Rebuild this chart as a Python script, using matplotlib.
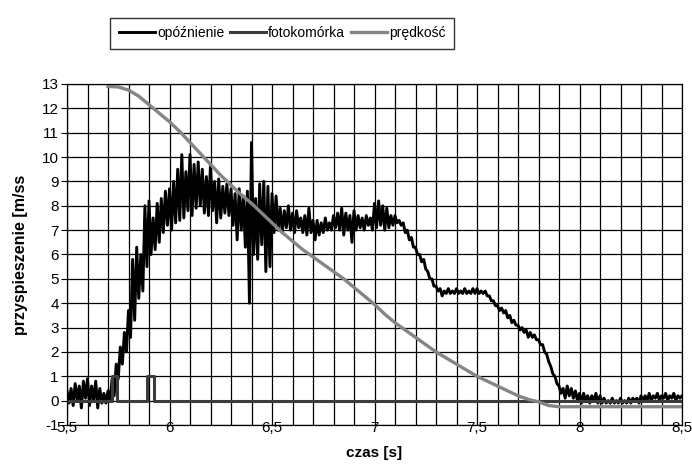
import numpy as np
import matplotlib
matplotlib.use("Agg")
import matplotlib.pyplot as plt
from matplotlib.ticker import MultipleLocator, FuncFormatter

plt.rcParams['font.family'] = ['Liberation Sans', 'DejaVu Sans']
plt.rcParams['axes.unicode_minus'] = False

# opóźnienie: upper / lower envelope of the noisy signal, sampled every 0.02 s
t_opo = np.round(np.arange(5.50, 8.501, 0.02), 2)
opo_hi = [0.4, 0.5, 0.7, 0.6, 0.8, 0.9, 0.6, 0.8, 0.5, 0.3, 0.4, 0.9, 1.5, 2.2, 2.8, 3.7,
          5.8, 6.3, 6.0, 8.0, 8.2, 7.5, 8.1, 8.3, 8.6, 8.7, 9.0, 9.5, 10.1, 9.4, 10.1, 9.7,
          9.8, 9.5, 9.2, 9.7, 9.0, 9.1, 8.8, 8.9, 8.7, 8.5, 8.7, 8.4, 8.6, 10.6, 8.3, 8.9,
          9.0, 8.8, 8.5, 8.4, 7.9, 7.8, 8.0, 7.7, 7.8, 7.5, 7.6, 7.9, 7.4, 7.4, 7.3, 7.5,
          7.3, 7.6, 7.7, 7.9, 7.7, 7.6, 7.8, 7.6, 7.5, 7.6, 7.5, 8.1, 8.2, 8.0, 7.9, 7.6,
          7.6, 7.4, 7.3, 7.0, 6.7, 6.3, 6.0, 5.8, 5.3, 5.0, 4.7, 4.6, 4.5, 4.6, 4.5, 4.6,
          4.5, 4.6, 4.5, 4.6, 4.6, 4.5, 4.5, 4.3, 4.1, 3.9, 3.8, 3.7, 3.5, 3.3, 3.1, 3.0,
          2.9, 2.8, 2.7, 2.5, 2.3, 1.9, 1.4, 1.0, 0.6, 0.5, 0.6, 0.5, 0.4, 0.3, 0.3, 0.2,
          0.2, 0.3, 0.2, 0.1, 0.0, 0.1, 0.0, 0.1, 0.0, 0.1, 0.1, 0.1, 0.2, 0.2, 0.3, 0.2,
          0.3, 0.2, 0.3, 0.2, 0.3, 0.2, 0.2]
opo_lo = [-0.1, -0.2, 0.0, -0.3, 0.1, -0.2, 0.0, -0.3, -0.1, -0.1, 0.0, 0.2, 0.9, 1.5, 2.0, 2.6,
          3.3, 4.2, 4.5, 5.5, 6.0, 6.2, 6.5, 6.9, 7.2, 7.0, 7.3, 7.4, 7.5, 7.8, 7.6, 7.9,
          8.0, 7.7, 7.6, 7.8, 7.3, 7.5, 7.7, 7.6, 7.2, 6.6, 7.0, 6.3, 4.0, 6.0, 5.8, 6.4,
          5.3, 5.5, 6.9, 7.0, 6.9, 7.1, 7.0, 6.9, 7.1, 6.9, 6.8, 6.9, 6.6, 6.8, 6.9, 7.0,
          7.0, 7.1, 7.0, 6.8, 7.0, 6.5, 7.0, 7.1, 7.0, 7.2, 7.0, 7.1, 7.2, 7.0, 7.1, 7.2,
          7.3, 7.2, 6.9, 6.6, 6.3, 6.0, 5.7, 5.4, 5.0, 4.7, 4.5, 4.3, 4.4, 4.4, 4.4, 4.4,
          4.4, 4.4, 4.4, 4.4, 4.4, 4.4, 4.3, 4.1, 3.9, 3.7, 3.6, 3.4, 3.2, 3.1, 2.9, 2.8,
          2.6, 2.6, 2.5, 2.3, 2.0, 1.6, 1.1, 0.7, 0.3, 0.1, 0.2, 0.1, 0.0, -0.1, 0.0, -0.1,
          0.0, -0.1, -0.1, -0.1, -0.1, -0.1, -0.1, -0.1, -0.1, -0.1, 0.0, -0.1, 0.0, 0.0, 0.0, 0.1,
          0.0, 0.1, 0.0, 0.1, 0.0, 0.1, 0.1]

# fotokomórka: two short pulses
t_foto = [5.50, 5.718, 5.718, 5.745, 5.745, 5.892, 5.892, 5.924, 5.924, 8.50]
foto = [0, 0, 1, 1, 0, 0, 1, 1, 0, 0]

# prędkość
t_pred = [5.70, 5.75, 5.80, 5.85, 5.90, 5.95, 6.00, 6.05, 6.10, 6.15, 6.20, 6.25, 6.30,
          6.35, 6.40, 6.45, 6.50, 6.55, 6.60, 6.65, 6.70, 6.75, 6.80, 6.85, 6.90, 6.95,
          7.00, 7.05, 7.10, 7.15, 7.20, 7.25, 7.30, 7.35, 7.40, 7.45, 7.50, 7.55, 7.60,
          7.65, 7.70, 7.75, 7.80, 7.85, 7.90, 8.50]
pred = [12.9, 12.88, 12.75, 12.5, 12.15, 11.8, 11.45, 11.05, 10.6, 10.15, 9.7, 9.25, 8.85,
        8.45, 8.1, 7.7, 7.3, 6.9, 6.55, 6.2, 5.9, 5.6, 5.3, 5.0, 4.65, 4.3,
        3.95, 3.55, 3.2, 2.9, 2.6, 2.3, 2.0, 1.75, 1.5, 1.25, 1.0, 0.8, 0.6,
        0.4, 0.2, 0.05, -0.05, -0.2, -0.25, -0.25]

# zig-zag between upper and lower envelope
x_opo = np.column_stack([t_opo, t_opo + 0.01]).ravel()
y_opo = np.column_stack([opo_hi, opo_lo]).ravel()

fig = plt.figure(figsize=(6.92, 4.65), dpi=100)
ax = fig.add_axes([67 / 692, 1 - 425 / 465, 615 / 692, 341 / 465])

ax.plot(x_opo, y_opo, color='black', lw=2.1, label='opóźnienie')
ax.plot(t_foto, foto, color='#3c3c3c', lw=2.2, label='fotokomórka')
ax.plot(t_pred, pred, color='#858585', lw=2.4, label='prędkość')

ax.set_xlim(5.5, 8.5)
ax.set_ylim(-1, 13)
ax.xaxis.set_major_locator(MultipleLocator(0.5))
ax.xaxis.set_minor_locator(MultipleLocator(0.1))
ax.yaxis.set_major_locator(MultipleLocator(1))
ax.xaxis.set_major_formatter(FuncFormatter(lambda v, p: f'{v:g}'.replace('.', ',')))
ax.grid(True, which='both', color='black', lw=0.9)
ax.set_axisbelow(True)
for s in ax.spines.values():
    s.set_color('black')
    s.set_linewidth(0.9)

ax.tick_params(axis='x', which='both', length=0, pad=-3, labelsize=11)
ax.tick_params(axis='y', length=4, pad=2, labelsize=11)

ax.set_xlabel('czas [s]', fontsize=11, fontweight='bold', labelpad=8)
ax.set_ylabel('przyspieszenie [m/ss', fontsize=11.5, fontweight='bold', labelpad=10)

leg = fig.legend(loc='upper center', bbox_to_anchor=(282 / 692, 1 - 11 / 465), ncol=3,
                 fontsize=10, frameon=True, fancybox=False, edgecolor='black',
                 handlelength=2.6, handletextpad=0.15, columnspacing=0.4,
                 borderpad=0.6)
leg.get_frame().set_linewidth(1.0)

fig.savefig('out.png', dpi=100)
